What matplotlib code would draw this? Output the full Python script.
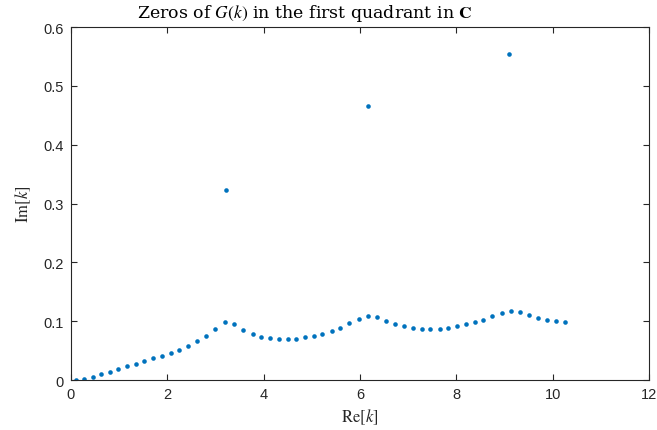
import numpy as np
import matplotlib
matplotlib.use("Agg")
import matplotlib.pyplot as plt

# zeros of G(k): lower branch
re_low = [0.10, 0.28, 0.45, 0.63, 0.80, 0.98, 1.16, 1.34, 1.52, 1.71, 1.89, 2.07,
          2.25, 2.43, 2.61, 2.80, 2.98, 3.19, 3.39, 3.58, 3.77, 3.95, 4.13, 4.32,
          4.50, 4.68, 4.86, 5.04, 5.22, 5.41, 5.59, 5.78, 5.97, 6.16, 6.35, 6.54,
          6.73, 6.91, 7.09, 7.28, 7.46, 7.65, 7.83, 8.01, 8.20, 8.38, 8.56, 8.74,
          8.94, 9.13, 9.32, 9.51, 9.69, 9.88, 10.07, 10.25]
im_low = [0.0000, 0.0017, 0.0051, 0.0097, 0.0142, 0.0187, 0.0233, 0.0278, 0.0324,
          0.0369, 0.0415, 0.0466, 0.0517, 0.0579, 0.0659, 0.0750, 0.0863, 0.0994,
          0.0960, 0.0857, 0.0789, 0.0738, 0.0716, 0.0704, 0.0704, 0.0704, 0.0727,
          0.0755, 0.0789, 0.0835, 0.0892, 0.0965, 0.1039, 0.1096, 0.1073, 0.1011,
          0.0954, 0.0914, 0.0892, 0.0875, 0.0869, 0.0875, 0.0892, 0.0914, 0.0948,
          0.0982, 0.1028, 0.1090, 0.1147, 0.1175, 0.1153, 0.1107, 0.1056, 0.1022,
          0.0999, 0.0982]
# isolated zeros
re_iso = [3.22, 6.16, 9.09]
im_iso = [0.323, 0.466, 0.554]

plt.rcParams['mathtext.fontset'] = 'stix'
plt.rcParams['font.family'] = ['Liberation Sans', 'DejaVu Sans']

fig = plt.figure(figsize=(6.57, 4.31), dpi=100)
ax = fig.add_axes([0.108, 0.116, 0.880, 0.819])

blue = '#0072BD'
ax.plot(re_low, im_low, 'o', color=blue, markersize=3.3, markeredgewidth=0)
ax.plot(re_iso, im_iso, 'o', color=blue, markersize=3.3, markeredgewidth=0)

ax.set_xlim(0, 12)
ax.set_ylim(0, 0.6)
ax.set_xticks(np.arange(0, 13, 2))
ax.set_yticks(np.arange(0, 0.61, 0.1))
ax.set_yticklabels(['0', '0.1', '0.2', '0.3', '0.4', '0.5', '0.6'])

gray = '#262626'
for s in ax.spines.values():
    s.set_color(gray)
    s.set_linewidth(0.8)
ax.tick_params(direction='in', top=True, right=True, length=4, width=0.8,
               colors=gray, labelsize=10.5, pad=5)

ax.set_xlabel(r'$\mathrm{Re}[k]$', fontsize=12, color=gray, labelpad=4)
ax.set_ylabel(r'$\mathrm{Im}[k]$', fontsize=12, color=gray, labelpad=8)

# title sits left of centre in the original
fig.text(137 / 657, 1 - 18 / 431,
         r'Zeros of $G(k)$ in the first quadrant in $\mathbf{C}$',
         family='DejaVu Serif', fontsize=12.5, color='black', ha='left', va='baseline')

fig.savefig('out.png', dpi=100)
